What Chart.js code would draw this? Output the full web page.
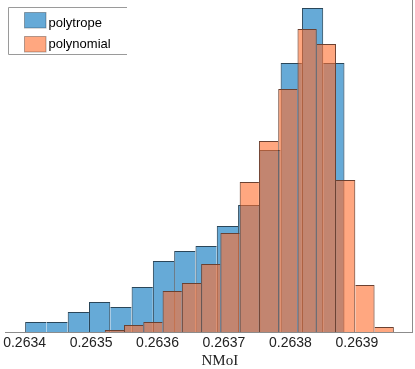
<!DOCTYPE html>
<html>
<head>
<meta charset="utf-8">
<script src="https://cdn.jsdelivr.net/npm/chart.js@4.4.1/dist/chart.umd.min.js"></script>
<style>
  html, body { margin: 0; padding: 0; background: #ffffff; }
  #wrap { width: 415px; height: 369px; }
</style>
</head>
<body>
<div id="wrap"><canvas id="c" width="415" height="369"></canvas></div>
<script>
// ---- data ----
const seriesNames = ['polytrope', 'polynomial'];

const polytropeEdges = [0.2634008, 0.2634328, 0.2634648, 0.2634969, 0.2635289, 0.2635610,
  0.2635930, 0.2636250, 0.2636571, 0.2636891, 0.2637212, 0.2637532, 0.2637852,
  0.2638173, 0.2638493, 0.2638813];
const polytropeValues = [0.0060, 0.0060, 0.0121, 0.0181, 0.0151, 0.0272, 0.0429, 0.0489,
  0.0520, 0.0640, 0.0767, 0.1100, 0.1625, 0.1958, 0.1625];

const polynomialEdges = [0.2635206, 0.2635496, 0.2635786, 0.2636076, 0.2636366, 0.2636656,
  0.2636946, 0.2637236, 0.2637526, 0.2637816, 0.2638106, 0.2638396, 0.2638686,
  0.2638976, 0.2639266, 0.2639556];
const polynomialValues = [0.0012, 0.0042, 0.0060, 0.0248, 0.0296, 0.0411, 0.0598, 0.0906,
  0.1154, 0.1468, 0.1831, 0.1740, 0.0918, 0.0284, 0.0030];

const tickValues = [0.2634, 0.2635, 0.2636, 0.2637, 0.2638, 0.2639];
const tickLabels = ['0.2634', '0.2635', '0.2636', '0.2637', '0.2638', '0.2639'];
const xLabel = 'NMoI';
const xRange = [0.2633715, 0.2639829];
const yRange = [0, 0.2006];

// ---- helpers ----
function toBars(edges, values) {
  return values.map((v, i) => ({ x: (edges[i] + edges[i + 1]) / 2, y: v }));
}
function edgeWidths(values) {
  return (ctx) => {
    const i = ctx.dataIndex, n = values.length;
    return {
      top: 1, bottom: 0,
      left: (i === 0 || values[i] > values[i - 1]) ? 1 : 0,
      right: (i === n - 1 || values[i] > values[i + 1]) ? 1 : 0
    };
  };
}
const fixTicks = (s) => { s.ticks = tickValues.map(v => ({ value: v })); };

const BLUE = 'rgba(0,114,189,0.6)';
const ORANGE = 'rgba(255,108,43,0.6)';
const BLUE_EDGE = '#2a4659';
const ORANGE_EDGE = '#6b4131';
const AXIS = '#8c8c8c';
const SANS = '"Liberation Sans", Arial, Helvetica, sans-serif';
const SERIF = '"Liberation Serif", "Times New Roman", serif';

const boxLegend = {
  id: 'boxLegend',
  afterDraw(chart) {
    const c = chart.ctx;
    c.save();
    // frame (top, left, bottom)
    c.strokeStyle = '#9a9a9a';
    c.lineWidth = 1;
    c.beginPath();
    c.moveTo(127, 7.5); c.lineTo(8.5, 7.5); c.lineTo(8.5, 54.5); c.lineTo(127, 54.5);
    c.stroke();
    const items = [
      { name: seriesNames[0], fill: BLUE, y: 12.5, base: 26.5 },
      { name: seriesNames[1], fill: ORANGE, y: 36.5, base: 47.5 }
    ];
    items.forEach(it => {
      c.fillStyle = it.fill;
      c.fillRect(24.5, it.y, 21.5, 15.5);
      c.strokeStyle = 'rgba(0,0,0,0.3)';
      c.strokeRect(24.5, it.y, 21.5, 15.5);
      c.fillStyle = '#000';
      c.font = '13px ' + SANS;
      c.textAlign = 'left';
      c.textBaseline = 'alphabetic';
      c.fillText(it.name, 48.5, it.base);
    });
    // x axis label
    const a = chart.chartArea;
    c.font = '15px ' + SERIF;
    c.fillStyle = '#222';
    c.textAlign = 'center';
    c.fillText(xLabel, (a.left + a.right) / 2 + 11, 365);
    c.restore();
  }
};

new Chart(document.getElementById('c'), {
  type: 'bar',
  data: {
    datasets: [
      {
        label: seriesNames[0],
        data: toBars(polytropeEdges, polytropeValues),
        xAxisID: 'x',
        order: 1,
        backgroundColor: BLUE,
        borderColor: BLUE_EDGE,
        borderWidth: edgeWidths(polytropeValues),
        grouped: false,
        barPercentage: 1,
        categoryPercentage: 1,
        inflateAmount: 0
      },
      {
        label: seriesNames[1],
        data: toBars(polynomialEdges, polynomialValues),
        xAxisID: 'x2',
        order: 0,
        backgroundColor: ORANGE,
        borderColor: ORANGE_EDGE,
        borderWidth: edgeWidths(polynomialValues),
        grouped: false,
        barPercentage: 1,
        categoryPercentage: 1,
        inflateAmount: 0
      }
    ]
  },
  options: {
    responsive: false,
    animation: false,
    devicePixelRatio: 1,
    layout: { padding: { left: 4, right: 3, top: 0, bottom: 0 } },
    plugins: { legend: { display: false }, tooltip: { enabled: false } },
    scales: {
      x: {
        type: 'linear', position: 'bottom', offset: false,
        min: xRange[0], max: xRange[1],
        grid: { display: false, drawTicks: false, offset: false },
        border: { display: true, color: AXIS, width: 1 },
        ticks: {
          includeBounds: false, padding: 3, color: '#222', maxRotation: 0, autoSkip: false,
          font: { family: SANS, size: 14 },
          callback: (v) => tickLabels[tickValues.indexOf(v)]
        },
        afterBuildTicks: fixTicks,
        afterFit: (s) => { s.height = 37; }
      },
      x2: {
        type: 'linear', display: false, offset: false,
        min: xRange[0], max: xRange[1],
        grid: { offset: false },
        ticks: { includeBounds: false },
        afterBuildTicks: fixTicks
      },
      y: {
        type: 'linear', position: 'right',
        min: yRange[0], max: yRange[1],
        grid: { display: false, drawTicks: false },
        border: { display: true, color: AXIS, width: 1 },
        ticks: { display: false },
        afterFit: (s) => { s.width = 0; }
      }
    }
  },
  plugins: [boxLegend]
});
</script>
</body>
</html>
